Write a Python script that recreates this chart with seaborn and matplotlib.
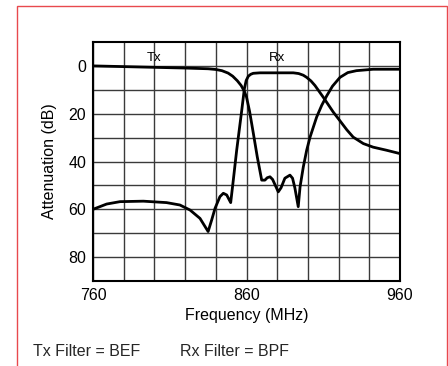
import matplotlib
matplotlib.use("Agg")
import matplotlib.pyplot as plt
import seaborn as sns
import pandas as pd
from matplotlib.patches import Rectangle

# Tx filter (BEF) response
tx_freq = [760, 780, 800, 820, 835, 840, 844, 848, 851, 854, 856.5, 858.5, 860, 862,
           864.4, 867, 869.9, 872, 873.5, 875.3, 877, 880.7, 882.5, 885, 888.3, 890,
           891.5, 893.7, 894.9, 897, 899.2, 901.4, 905.7, 909, 912.2, 916, 920.9, 926,
           931.6, 942.5, 960]
tx_att = [0, 0.3, 0.6, 0.9, 1.2, 1.5, 2.0, 3.0, 4.3, 6.2, 8.2, 10.5, 13, 19,
          28, 38, 47.8, 47.8, 46.8, 46.4, 47.5, 52.7, 51, 47, 45.7, 47,
          51, 58.9, 50.6, 42.3, 35.3, 29.8, 21.4, 16.5, 12.6, 8.5, 4.8, 2.8,
          2, 1.4, 1.4]

# Rx filter (BPF) response
rx_freq = [760, 768.9, 777.6, 792.8, 807.9, 816.6, 823.2, 829.7, 835, 837.3, 839.5,
           842.7, 844.9, 847.1, 849.7, 851.4, 853.6, 856.9, 858.6, 859.8, 861.2, 862.8,
           864.4, 868.8, 890.5, 894, 897, 899.2, 902, 904.6, 910, 916.5, 920.8, 925.3,
           929.5, 936.1, 942.5, 951.3, 960]
rx_att = [60, 57.8, 56.8, 56.6, 57.2, 58.2, 60.3, 63.8, 69.3, 64.5, 59.6,
          54.7, 53.3, 54, 57.2, 47.8, 35.3, 18.6, 9.6, 6.1, 4.3, 3.5,
          3.1, 2.9, 2.9, 3.2, 3.9, 4.8, 6.3, 8.2, 13.1, 19.3, 22.9, 26.7,
          29.8, 32.5, 34, 35.3, 36.7]

x_ticks = [760, 860, 960]
y_ticks = [0, 20, 40, 60, 80]
band_labels = ["Tx", "Rx"]
band_pos = [800, 880]

sns.set_theme(style="white")
plt.rcParams['font.family'] = ['Liberation Sans', 'DejaVu Sans']

fig = plt.figure(figsize=(4.48, 3.66), dpi=100)
ax = fig.add_axes([93/448, 1-281/366, 307/448, 239/366])

df_tx = pd.DataFrame({"f": tx_freq, "a": tx_att})
df_rx = pd.DataFrame({"f": rx_freq, "a": rx_att})
sns.lineplot(data=df_tx, x="f", y="a", ax=ax, color="black", lw=2.0,
             sort=False, estimator=None, zorder=5)
sns.lineplot(data=df_rx, x="f", y="a", ax=ax, color="black", lw=2.0,
             sort=False, estimator=None, zorder=5)

ax.set_xlim(760, 960)
ax.set_ylim(90, -10)
for xv in range(760, 961, 20):
    ax.axvline(xv, color="#3a3a3a", lw=1.0, zorder=1)
for yv in range(0, 81, 10):
    ax.axhline(yv, color="#3a3a3a", lw=1.0, zorder=1)

ax.set_xticks(x_ticks)
ax.set_xticklabels([str(v) for v in x_ticks])
ax.set_yticks(y_ticks)
ax.set_yticklabels([str(v) for v in y_ticks])
ax.tick_params(axis="x", length=0, labelsize=11.5, colors="black", pad=5)
ax.tick_params(axis="y", length=0, labelsize=11.5, colors="black", pad=5)
ax.set_xlabel("Frequency (MHz)", fontsize=11.5, color="black", labelpad=3.5)
ax.set_ylabel("Attenuation (dB)", fontsize=11.5, color="black", labelpad=8)
for s in ax.spines.values():
    s.set_color("black")
    s.set_linewidth(1.5)
    s.set_visible(True)

for lab, xp in zip(band_labels, band_pos):
    ax.text(xp, -3.5, lab, ha="center", va="center", fontsize=9.5, color="black")

fig.text(33/448, 1-351/366, "Tx Filter = BEF", fontsize=11.5, ha="left", va="center")
fig.text(180/448, 1-351/366, "Rx Filter = BPF", fontsize=11.5, ha="left", va="center")

fig.patches.append(Rectangle((17/448, -0.1), 430/448, 1 - 5.5/366 + 0.1,
                             transform=fig.transFigure, fill=False,
                             edgecolor="#e8494d", lw=1.0))

fig.savefig("out.png", dpi=100)
